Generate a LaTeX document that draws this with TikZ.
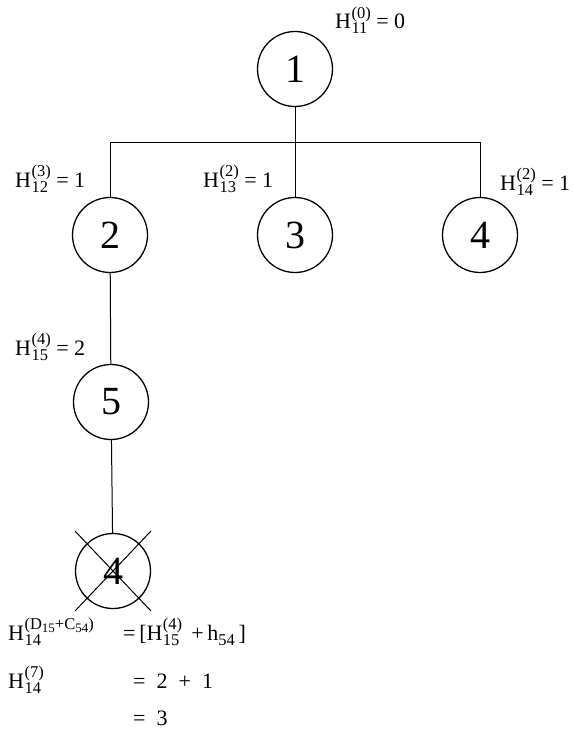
\documentclass[tikz,border=0pt]{standalone}
\usepackage{fontspec}
\setmainfont{Liberation Serif}
\usetikzlibrary{calc}
\tikzstyle{vertex}=[draw, circle, line width=1.3pt, minimum size=75pt, inner sep=0pt, font=\fontsize{40}{40}\selectfont]
\tikzstyle{hlabel}=[anchor=base west, inner sep=0pt, font=\fontsize{22}{24}\selectfont]
\tikzstyle{edge}=[line width=1pt]
\newcommand{\Hsub}{\fontsize{16.5}{17}\selectfont}
\newcommand{\Tiny}{\fontsize{13}{13}\selectfont}
% H with superscript #1 stacked over subscript #2
\newcommand{\Hsym}[2]{H\kern0.5pt\sbox0{\Hsub(#1)}\sbox2{\Hsub #2}\rlap{\raisebox{10.5pt}{\usebox0}}\raisebox{-5pt}{\usebox2}\ifdim\wd0>\wd2\kern\dimexpr\wd0-\wd2\relax\fi}
\newcommand{\Hval}[3]{\Hsym{#1}{#2} = #3}

\begin{document}
\begin{tikzpicture}[x=1pt,y=-1pt]
	\useasboundingbox (0,0) rectangle (573,730);
	% tree
	\node[vertex] (n1) at (295,69) {1};
	\node[vertex] (n2) at (110,235) {2};
	\node[vertex] (n3) at (295,235) {3};
	\node[vertex] (n4) at (480,235) {4};
	\node[vertex] (n5) at (111,402) {5};
	\node[vertex] (n4x) at (113,571) {4};
	\coordinate (bar) at (295,143);
	\draw[edge] (n1) -- (n3);
	\draw[edge] (n2.north) -- (n2.north |- bar) -- (n4.north |- bar) -- (n4.north);
	\draw[edge] (n2) -- (n5);
	\draw[edge] (n5) -- (n4x);
	% crossed out
	\draw[edge] ($(n4x)+(-38,-40)$) -- ($(n4x)+(38,40)$);
	\draw[edge] ($(n4x)+(38,-40)$) -- ($(n4x)+(-38,40)$);
	% labels
	\node[hlabel] (h11) at (335,29) {\Hval{0}{11}{0}};
	\node[hlabel] (h12) at (15,187) {\Hval{3}{12}{1}};
	\node[hlabel] (h13) at (203,187) {\Hval{2}{13}{1}};
	\node[hlabel] (h14) at (500,190) {\Hval{2}{14}{1}};
	\node[hlabel] (h15) at (15,355) {\Hval{4}{15}{2}};
	% calculation
	\node[hlabel] (eq1l) at (8,640) {\Hsym{D\raisebox{-2.5pt}{\Tiny 15}+C\raisebox{-2.5pt}{\Tiny 54}}{14}};
	\node[hlabel] (eq1r) at (123,640) {=\,[\Hsym{4}{15}\ \,+\,h\raisebox{-5pt}{\Hsub 54}\,]};
	\node[hlabel] (eq2l) at (8,688) {\Hsym{7}{14}};
	\node[hlabel] (eq2r) at (133,688) {=\ \ 2\ \ +\ \ 1};
	\node[hlabel] (eq3r) at (133,725) {=\ \ 3};
\end{tikzpicture}
\end{document}
